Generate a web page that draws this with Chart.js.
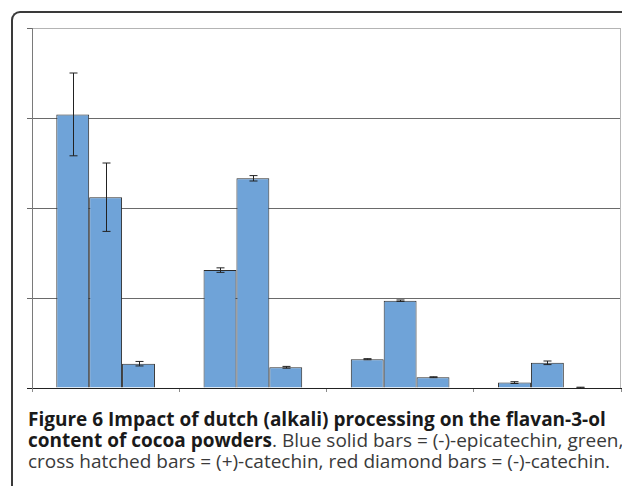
<!DOCTYPE html>
<html>
<head>
<meta charset="utf-8">
<script src="https://cdn.jsdelivr.net/npm/chart.js@4.4.1/dist/chart.umd.min.js"></script>
<style>
  html, body { margin: 0; padding: 0; background: #fff; }
  #page { width: 622px; height: 486px; position: relative; overflow: hidden; }
  #frame {
    position: absolute; left: 11px; top: 11px; width: 640px; height: 520px;
    border-left: 2px solid #3a3a3a; border-top: 2px solid #3a3a3a;
    border-top-left-radius: 9px; box-sizing: border-box;
  }
  #chart { position: absolute; left: 0; top: 0; }
  .cap {
    position: absolute; left: 28px; white-space: nowrap;
    font-family: "Open Sans", sans-serif; font-size: 19px; line-height: 21px; color: #3a3a3a;
  }
  .cap b { font-weight: 700; color: #1a1a1a; }
</style>
</head>
<body>
<div id="page">
<div id="frame"></div>
<canvas id="chart" width="622" height="400"></canvas>
<div class="cap" style="top:409px"><b>Figure 6 Impact of dutch (alkali) processing on the flavan-3-ol</b></div>
<div class="cap" style="top:430px"><b>content of cocoa powders</b>. Blue solid bars = (-)-epicatechin, green,</div>
<div class="cap" style="top:451px">cross hatched bars = (+)-catechin, red diamond bars = (-)-catechin.</div>
</div>

<script>
// Cocoa powder groups by degree of alkalization
const categories = ['Natural', 'Light', 'Medium', 'Heavy'];

// Flavan-3-ol content per group
const epicatechin = [3.04, 1.31, 0.32, 0.06];
const plusCatechin = [2.12, 2.33, 0.97, 0.28];
const minusCatechin = [0.27, 0.23, 0.12, 0.005];

// Standard deviations for the error bars
const epicatechinErr = [0.46, 0.025, 0.006, 0.01];
const plusCatechinErr = [0.38, 0.03, 0.008, 0.02];
const minusCatechinErr = [0.025, 0.01, 0.005, 0.004];

// Value axis ticks
const yTicks = [0, 1, 2, 3, 4];

const errors = [epicatechinErr, plusCatechinErr, minusCatechinErr];

const barColor = '#6fa3d8';
const barEdge = '#2b2b2b';

const errorBars = {
  id: 'errorBars',
  afterDatasetsDraw(chart) {
    const { ctx, scales: { y } } = chart;
    ctx.save();
    ctx.strokeStyle = '#222';
    ctx.lineWidth = 1;
    chart.data.datasets.forEach((ds, di) => {
      const meta = chart.getDatasetMeta(di);
      meta.data.forEach((bar, i) => {
        const v = ds.data[i], e = errors[di][i];
        const x = Math.round(bar.x) + 0.5;
        const top = y.getPixelForValue(v + e);
        const bot = y.getPixelForValue(Math.max(0, v - e));
        ctx.beginPath();
        ctx.moveTo(x, top); ctx.lineTo(x, bot);
        ctx.moveTo(x - 4, top); ctx.lineTo(x + 4, top);
        ctx.moveTo(x - 4, bot); ctx.lineTo(x + 4, bot);
        ctx.stroke();
      });
    });
    ctx.restore();
  }
};

const plotEdge = {
  id: 'plotEdge',
  beforeDatasetsDraw(chart) {
    const { ctx, chartArea: a } = chart;
    ctx.save();
    ctx.strokeStyle = '#b8b8b8';
    ctx.lineWidth = 1;
    ctx.beginPath();
    ctx.moveTo(a.right - 0.5, a.top);
    ctx.lineTo(a.right - 0.5, a.bottom);
    ctx.stroke();
    ctx.restore();
  }
};

const mkSet = (label, data) => ({
  label, data,
  backgroundColor: barColor,
  borderColor: barEdge,
  borderWidth: 1,
  categoryPercentage: 0.67,
  barPercentage: 1.0
});

new Chart(document.getElementById('chart'), {
  type: 'bar',
  data: {
    labels: categories,
    datasets: [
      mkSet('(-)-epicatechin', epicatechin),
      mkSet('(+)-catechin', plusCatechin),
      mkSet('(-)-catechin', minusCatechin)
    ]
  },
  options: {
    responsive: false,
    animation: false,
    layout: { padding: { left: 27, top: 28, right: 1, bottom: 8 } },
    plugins: { legend: { display: false }, tooltip: { enabled: false } },
    scales: {
      x: {
        offset: true,
        ticks: { display: false },
        grid: { offset: true, drawOnChartArea: false, drawTicks: true, tickLength: 4, color: '#8a8a8a' },
        border: { display: true, color: '#222', width: 1 },
        afterFit(s) { s.height = 4; }
      },
      y: {
        min: yTicks[0],
        max: yTicks[yTicks.length - 1],
        afterBuildTicks(s) { s.ticks = yTicks.map(v => ({ value: v })); },
        ticks: { display: false },
        grid: {
          drawTicks: true,
          tickLength: 5,
          color: c => c.tick.value === 0 ? 'rgba(0,0,0,0)' : (c.tick.value === 4 ? '#b4b4b4' : '#6a6a6a'),
          tickColor: c => c.tick.value === 0 ? '#222' : '#6a6a6a'
        },
        border: { display: true, color: '#7a7a7a', width: 1 },
        afterFit(s) { s.width = 5; }
      }
    }
  },
  plugins: [plotEdge, errorBars]
});
</script>
</body>
</html>
